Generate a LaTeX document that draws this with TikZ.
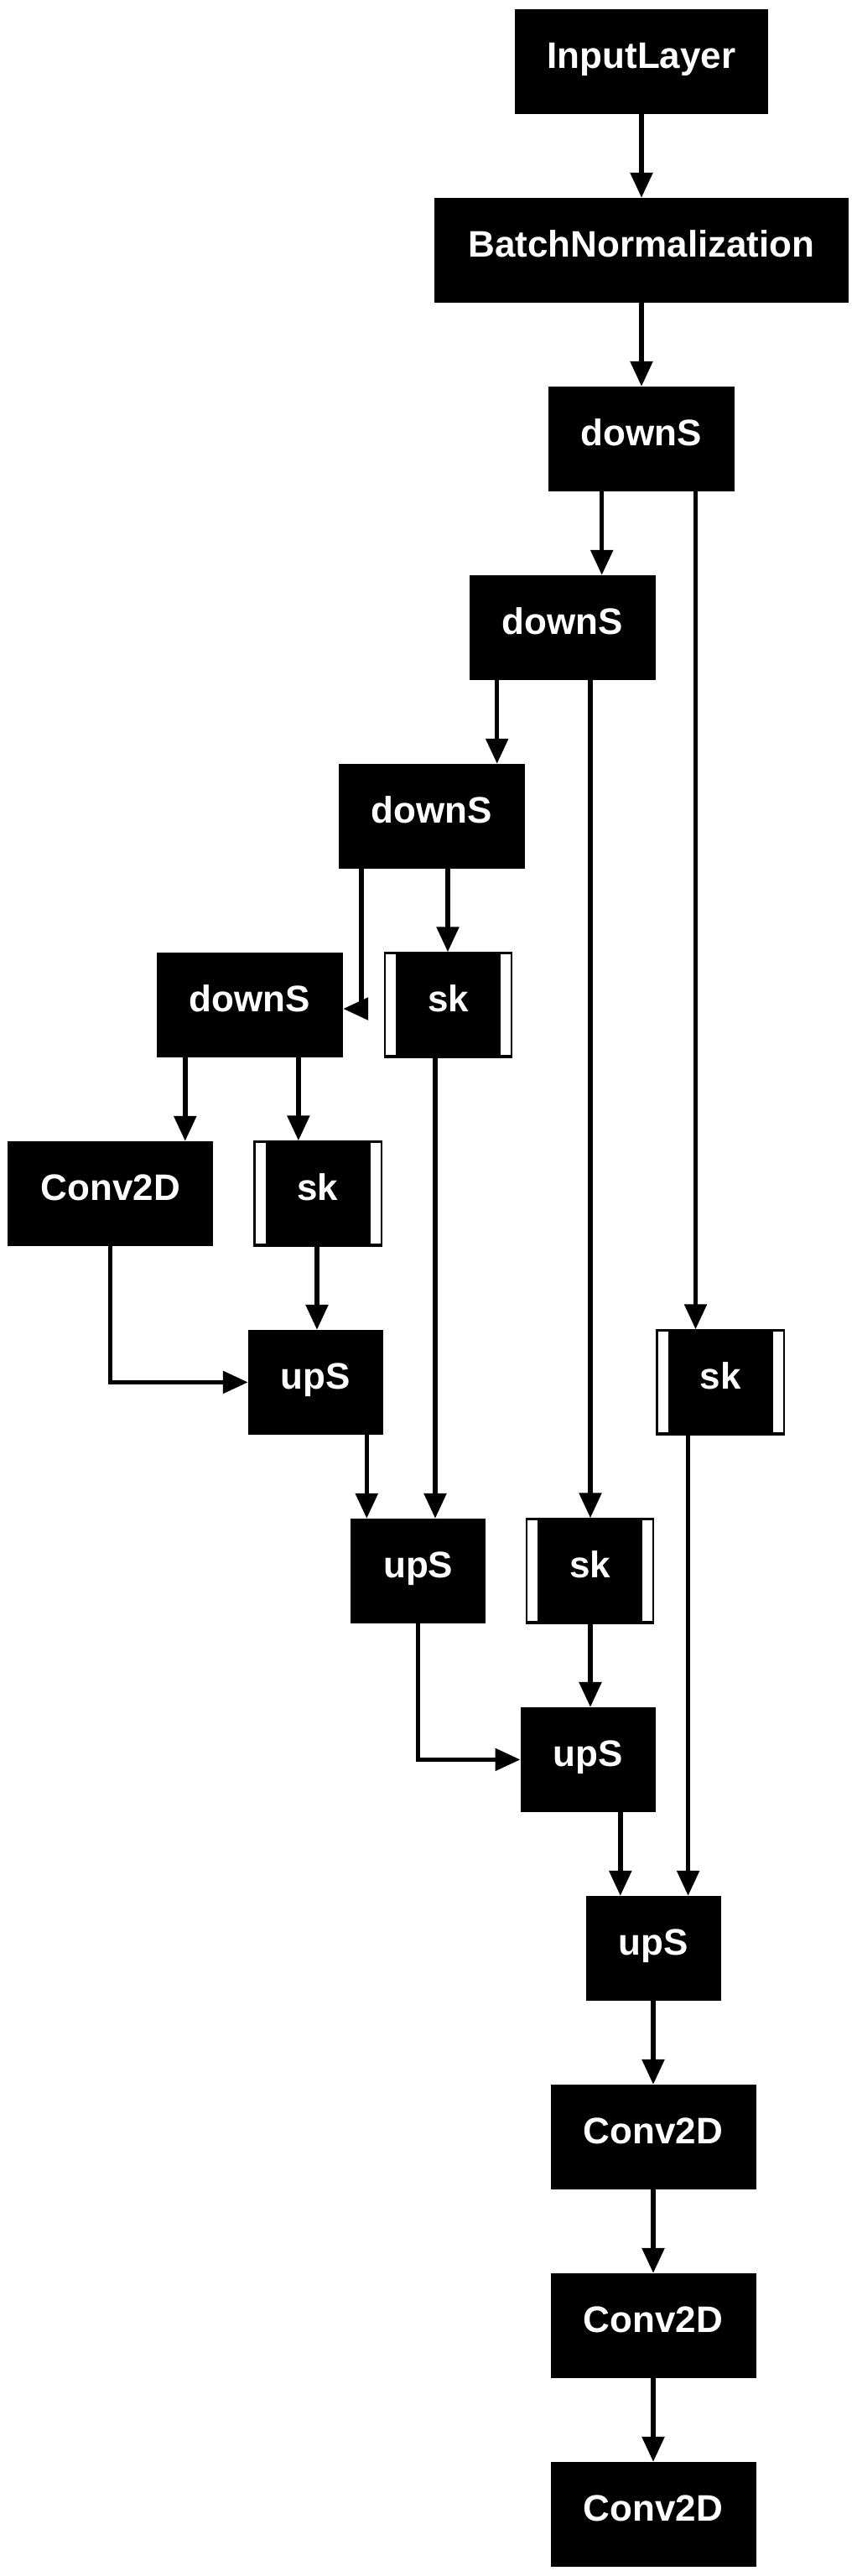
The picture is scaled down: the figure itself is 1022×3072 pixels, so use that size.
\documentclass[tikz,border=0pt]{standalone}
\usepackage{fontspec}
\setmainfont{Liberation Sans}
\usetikzlibrary{arrows.meta}
\begin{document}
\begin{tikzpicture}[x=1pt,y=-1pt,
  lay/.style={fill=black, draw=none, inner sep=0pt, text=white,
    font=\fontsize{44}{50}\selectfont\bfseries,
    text height=33pt, text depth=17pt, minimum height=124.7pt},
  skipbox/.style={lay, draw=black, line width=1.5pt, minimum width=152pt,
    path picture={
      \fill[white] ([shift={(1.7pt,2.4pt)}]path picture bounding box.south west)
        rectangle ([shift={(13.7pt,-2.4pt)}]path picture bounding box.north west);
      \fill[white] ([shift={(-13.4pt,2.4pt)}]path picture bounding box.south east)
        rectangle ([shift={(-1.4pt,-2.4pt)}]path picture bounding box.north east);}},
  dsbox/.style={lay, minimum width=222pt},
  upbox/.style={lay, minimum width=161pt},
  convbox/.style={lay, minimum width=245pt},
  arr/.style={line width=5.5pt, line join=miter, -{Triangle[length=30pt,width=26pt]}}]

\useasboundingbox (0,0) rectangle (1022,3072);

% rank centres: 73.4 + 225 k
\node[lay, minimum width=302pt] (inp) at (765,73.4) {InputLayer};
\node[lay, minimum width=494pt] (bn) at (765,298.4) {BatchNormalization};
\node[dsbox] (ds1) at (765,523.4) {downS};
\node[dsbox] (ds2) at (671,748.4) {downS};
\node[dsbox] (ds3) at (515,973.4) {downS};
\node[dsbox] (ds4) at (298,1198.4) {downS};
\node[skipbox] (sk1) at (534.5,1198.4) {sk};
\node[convbox] (cv0) at (131.7,1423.4) {Conv2D};
\node[skipbox] (sk2) at (379,1423.4) {sk};
\node[upbox] (up1) at (376.5,1648.4) {upS};
\node[skipbox] (sk3) at (859,1648.4) {sk};
\node[upbox] (up2) at (498.7,1873.4) {upS};
\node[skipbox] (sk4) at (703.7,1873.4) {sk};
\node[upbox] (up3) at (701.2,2098.4) {upS};
\node[upbox] (up4) at (779,2323.4) {upS};
\node[convbox] (cv1) at (779,2548.4) {Conv2D};
\node[convbox] (cv2) at (779,2773.4) {Conv2D};
\node[convbox] (cv3) at (779,2998.4) {Conv2D};

% x positions of the vertical connectors
\coordinate (xa) at (717.7,0);
\coordinate (xb) at (829.5,0);
\coordinate (xc) at (592.7,0);
\coordinate (xd) at (704,0);
\coordinate (xe) at (534,0);
\coordinate (xf) at (220.8,0);
\coordinate (xg) at (355.9,0);
\coordinate (xh) at (378,0);
\coordinate (xi) at (519,0);
\coordinate (xj) at (437.3,0);
\coordinate (xk) at (820.6,0);
\coordinate (xl) at (739.8,0);
\coordinate (bend) at (431,1203);

\draw[arr] (inp.south) -- (bn.north);
\draw[arr] (bn.south) -- (ds1.north);
\draw[arr] (ds1.south -| xa) -- (ds2.north -| xa);
\draw[arr] (ds1.south -| xb) -- (sk3.north -| xb);
\draw[arr] (ds2.south -| xc) -- (ds3.north -| xc);
\draw[arr] (ds2.south -| xd) -- (sk4.north -| xd);
\draw[arr] (ds3.south -| bend) -- (bend) -- (bend -| ds4.east);
\draw[arr] (ds3.south -| xe) -- (sk1.north -| xe);
\draw[arr] (ds4.south -| xf) -- (cv0.north -| xf);
\draw[arr] (ds4.south -| xg) -- (sk2.north -| xg);
\draw[arr] (cv0.south) -- (cv0.south |- up1.west) -- (up1.west);
\draw[arr] (sk2.south -| xh) -- (up1.north -| xh);
\draw[arr] (sk1.south -| xi) -- (up2.north -| xi);
\draw[arr] (up1.south -| xj) -- (up2.north -| xj);
\draw[arr] (sk3.south -| xk) -- (up4.north -| xk);
\draw[arr] (up2.south) -- (up2.south |- up3.west) -- (up3.west);
\draw[arr] (sk4.south -| xd) -- (up3.north -| xd);
\draw[arr] (up3.south -| xl) -- (up4.north -| xl);
\draw[arr] (up4.south) -- (cv1.north);
\draw[arr] (cv1.south) -- (cv2.north);
\draw[arr] (cv2.south) -- (cv3.north);
\end{tikzpicture}
\end{document}
